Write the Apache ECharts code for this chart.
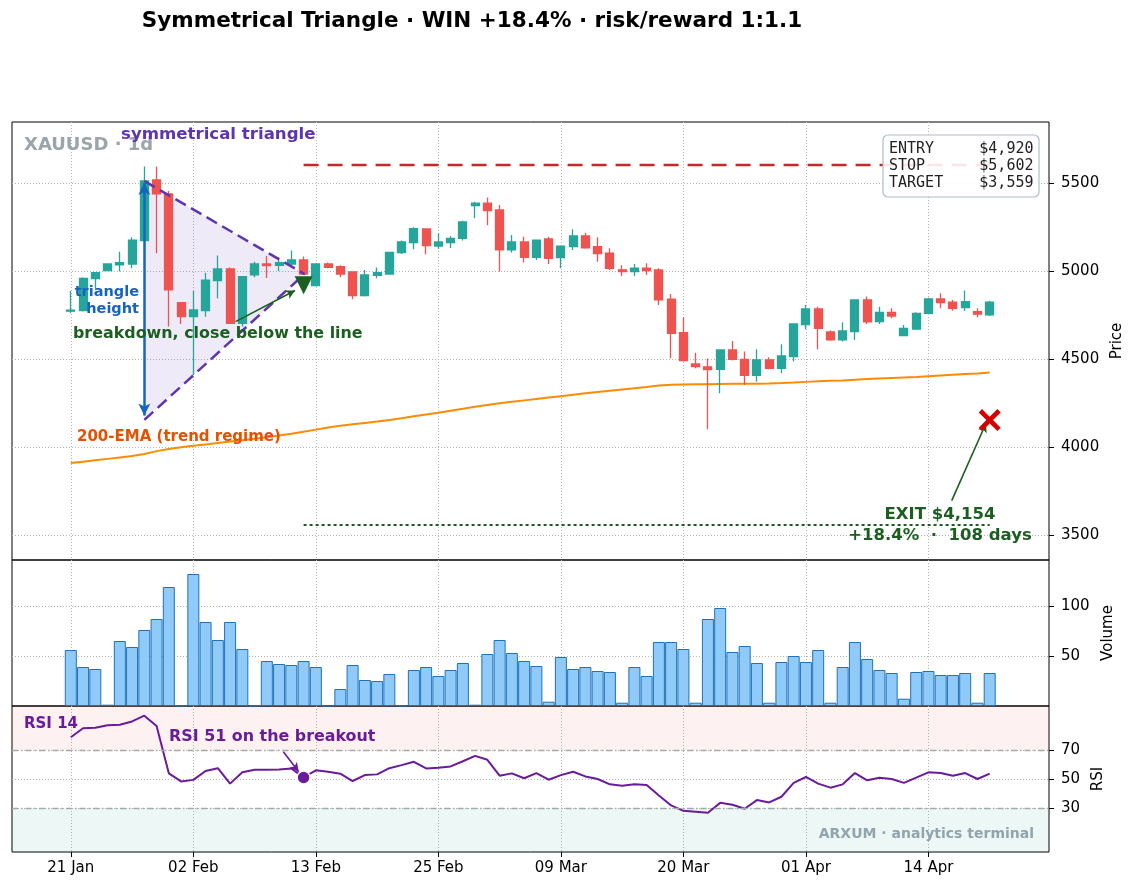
<!DOCTYPE html>
<html>
<head>
<meta charset="utf-8">
<script src="https://cdn.jsdelivr.net/npm/echarts@6/dist/echarts.min.js"></script>
<style>
html,body{margin:0;padding:0;background:#fff;}
#chart{width:1139px;height:894px;}
</style>
</head>
<body>
<div id="chart"></div>
<script>
// x axis: bar index, labelled every 10 bars
var tickIdx = [0, 10, 20, 30, 40, 50, 60, 70];
var tickLabels = ['21 Jan', '02 Feb', '13 Feb', '25 Feb', '09 Mar', '20 Mar', '01 Apr', '14 Apr'];

var opens  = [4772,4775,4957,5002,5035,5040,5173,5517,5438,4821,4741,4775,4946,5012,4703,4978,5040,5033,5040,5063,
              4917,5040,5025,4995,4860,4976,4983,5105,5162,5239,5142,5162,5186,5371,5385,5347,5120,5165,5078,5182,
              5076,5139,5199,5139,5101,5006,4997,5016,5006,4840,4650,4473,4456,4442,4552,4499,4408,4496,4448,4514,
              4696,4785,4654,4609,4656,4836,4713,4766,4633,4671,4760,4842,4823,4792,4770,4751];
var closes = [4778,4959,4991,5040,5048,5176,5511,5438,4893,4741,4779,4949,5012,4703,4968,5040,5031,5048,5063,4983,
              5040,5021,4983,4860,4978,4991,5106,5165,5241,5144,5165,5186,5279,5385,5343,5120,5165,5078,5176,5072,
              5142,5199,5131,5099,5016,4997,5016,5003,4836,4647,4492,4458,4440,4552,4499,4408,4496,4448,4518,4700,
              4785,4675,4609,4660,4836,4711,4766,4745,4675,4760,4842,4821,4789,4826,4755,4823];
var lows   = [4760,4770,4902,5000,4997,5016,5170,5101,4685,4700,4410,4741,4845,4700,4685,4965,4961,5000,5035,4978,
              4912,5016,4965,4840,4855,4959,4980,5097,5124,5095,5127,5131,5173,5299,5260,4997,5105,5048,5063,5040,
              5016,5120,5127,5053,5006,4972,4972,4978,4808,4505,4486,4448,4102,4306,4492,4353,4372,4442,4420,4486,
              4669,4556,4605,4600,4609,4700,4700,4732,4632,4666,4756,4789,4775,4773,4738,4745];
var highs  = [4887,4965,4995,5043,5110,5192,5593,5593,5455,4825,4887,4991,5088,5020,4972,5053,5086,5078,5116,5082,
              5045,5048,5033,4998,5006,5020,5108,5173,5248,5242,5214,5199,5286,5394,5417,5375,5205,5195,5178,5195,
              5145,5237,5218,5192,5129,5033,5040,5044,5016,4870,4736,4537,4503,4555,4603,4543,4556,4511,4584,4703,
              4808,4798,4662,4709,4840,4855,4798,4789,4694,4766,4849,4874,4836,4889,4789,4830];
var volume = [56,39,37,1.3,65,59,76,87,119,0.3,132,84,66,84,57,0.3,45,42,41,45,
              39,0.3,17,41,26,25,32,0.3,36,39,30,36,43,1.3,52,66,53,45,40,4.3,
              49,37,39,35,34,3.3,39,30,64,64,57,3.3,87,98,54,60,43,3.3,44,50,
              44,56,3.3,39,64,47,36,33,7.3,34,35,31,31,33,3.3,33];
var ema200 = [3910,3918,3926,3934,3942,3950,3962,3978,3990,4000,4008,4016,4024,4032,4040,4048,4056,4066,4076,4088,
              4100,4112,4122,4130,4138,4146,4155,4165,4176,4186,4196,4207,4218,4230,4240,4250,4258,4266,4274,4282,
              4290,4298,4306,4314,4321,4328,4335,4342,4350,4354,4356,4357,4358,4359,4360,4360,4361,4362,4364,4367,
              4371,4374,4377,4379,4383,4387,4390,4393,4396,4399,4403,4407,4411,4415,4419,4424];
var rsi14  = [78.9,85.1,85.5,87.2,87.5,89.8,93.8,86.7,53.9,48.3,49.4,55.5,57.5,46.8,54.6,56.4,56.4,56.6,57.3,51.1,
              56,55,53.7,48.6,52.7,53.2,57.5,59.6,61.9,57.3,57.8,58.7,62.3,66,63.3,52.3,53.9,50.5,54.1,49.5,
              52.7,55,51.8,50,46.3,45.4,46.3,45.9,38.6,31.7,28,27.4,26.7,33.5,32.2,29.4,35.4,33.8,37.7,47.3,
              51.4,46.8,44,46.3,54.1,49.1,50.9,50,47.3,50.9,54.6,54.1,52.3,54.1,50,53.7];

// trade levels
var entryPrice = 4920, stopPrice = 5602, targetPrice = 3559, exitPrice = 4154;
var breakoutIdx = 19, exitIdx = 75, breakoutRsi = 51;
// triangle: top vertex, apex, bottom vertex
var triangle = [[6, 5511], [19.07, 4983], [6, 4155]];

var UP = '#26a69a', DOWN = '#ef5350';
var FONT = 'DejaVu Sans';
var GRID_LINE = {show: true, lineStyle: {color: '#b5b5b5', type: [1, 2], width: 1}};

function xAxis(gridIndex, labels) {
    return {
        type: 'value', gridIndex: gridIndex, min: -4.8, max: 79.84,
        axisLine: {show: false, onZero: false},
        axisTick: {show: labels, customValues: tickIdx, length: 5, lineStyle: {color: '#000'}},
        axisLabel: {show: labels, customValues: tickIdx, color: '#000', fontSize: 15, fontFamily: FONT, margin: 9,
            formatter: function (v) { return tickLabels[tickIdx.indexOf(Math.round(v))] || ''; }},
        splitLine: GRID_LINE
    };
}
function yAxis(gridIndex, min, max, ticks, name, gap) {
    return {
        type: 'value', gridIndex: gridIndex, position: 'right', min: min, max: max,
        axisLine: {show: false, onZero: false},
        axisTick: {show: true, customValues: ticks, length: 5, lineStyle: {color: '#000'}},
        axisLabel: {customValues: ticks, color: '#000', fontSize: 15, fontFamily: FONT, margin: 12,
            formatter: function (v) { return String(v); }},
        splitLine: GRID_LINE,
        name: name, nameLocation: 'middle', nameRotate: 90, nameGap: gap,
        nameTextStyle: {color: '#000', fontSize: 15, fontFamily: FONT}
    };
}
var gridBase = {left: 12, right: 90, show: true, borderColor: '#000', borderWidth: 1, backgroundColor: 'transparent'};

var candles = opens.map(function (o, i) { return [i, o, closes[i], lows[i], highs[i]]; });

var chart = echarts.init(document.getElementById('chart'));
chart.setOption({
    animation: false,
    backgroundColor: '#fff',
    grid: [
        Object.assign({top: 122, height: 438}, gridBase),
        Object.assign({top: 560, height: 146}, gridBase),
        Object.assign({top: 706, height: 146}, gridBase)
    ],
    xAxis: [xAxis(0, false), xAxis(1, false), xAxis(2, true)],
    yAxis: [
        yAxis(0, 3360, 5846, [3500, 4000, 4500, 5000, 5500], 'Price', 58),
        yAxis(1, 0, 146, [50, 100], 'Volume', 50),
        yAxis(2, -0.5, 100.5, [30, 50, 70], 'RSI', 41)
    ],
    series: [
        {   // triangle fill
            type: 'custom', xAxisIndex: 0, yAxisIndex: 0, silent: true, z: 1,
            data: [[triangle[0][0], triangle[0][1]]],
            renderItem: function (params, api) {
                return {type: 'polygon', shape: {points: triangle.map(function (p) { return api.coord(p); })},
                    style: {fill: 'rgba(94,53,177,0.10)'}};
            }
        },
        {
            type: 'line', xAxisIndex: 0, yAxisIndex: 0, z: 2, symbol: 'none',
            data: ema200.map(function (v, i) { return [i, v]; }),
            lineStyle: {color: '#fb8c00', width: 2}
        },
        {
            type: 'candlestick', xAxisIndex: 0, yAxisIndex: 0, z: 3,
            data: candles, encode: {x: 0, y: [1, 2, 3, 4]}, barWidth: 8.5,
            itemStyle: {color: UP, color0: DOWN, borderColor: UP, borderColor0: DOWN, borderWidth: 1.3}
        },
        {   // triangle edges
            type: 'line', xAxisIndex: 0, yAxisIndex: 0, z: 4, symbol: 'none',
            data: [triangle[0], triangle[1]], lineStyle: {color: '#5e35b1', width: 2.5, type: [12, 6]}
        },
        {
            type: 'line', xAxisIndex: 0, yAxisIndex: 0, z: 4, symbol: 'none',
            data: [triangle[2], triangle[1]], lineStyle: {color: '#5e35b1', width: 2.5, type: [12, 6]}
        },
        {   // stop / target levels
            type: 'line', xAxisIndex: 0, yAxisIndex: 0, z: 4, symbol: 'none',
            data: [[breakoutIdx, stopPrice], [exitIdx, stopPrice]], lineStyle: {color: '#c62828', width: 2.5, type: [15, 9]}
        },
        {
            type: 'line', xAxisIndex: 0, yAxisIndex: 0, z: 4, symbol: 'none',
            data: [[breakoutIdx, targetPrice], [exitIdx, targetPrice]], lineStyle: {color: '#1b5e20', width: 2, type: [3, 3]}
        },
        {   // arrows on price panel
            type: 'line', xAxisIndex: 0, yAxisIndex: 0, z: 5, data: [],
            markLine: {
                silent: true, animation: false, label: {show: false},
                data: [
                    [{coord: [6, 5500], symbol: 'arrow', symbolSize: [9, 12]},
                     {coord: [6, 4180], symbol: 'arrow', symbolSize: [9, 12],
                      lineStyle: {color: '#1565c0', width: 2.5, type: 'solid'}}],
                    [{coord: [13.45, 4713], symbol: 'none'},
                     {coord: [18.3, 4890], symbol: 'arrow', symbolSize: [7, 9],
                      lineStyle: {color: '#1b5e20', width: 1.6, type: 'solid'}}],
                    [{coord: [71.9, 3697], symbol: 'none'},
                     {coord: [74.7, 4136], symbol: 'arrow', symbolSize: [7, 9],
                      lineStyle: {color: '#1b5e20', width: 1.6, type: 'solid'}}]
                ]
            }
        },
        {   // entry marker
            type: 'scatter', xAxisIndex: 0, yAxisIndex: 0, z: 6,
            data: [[breakoutIdx, entryPrice]], symbol: 'triangle', symbolRotate: 180, symbolSize: [18, 18],
            itemStyle: {color: '#1b5e20', opacity: 1}
        },
        {   // exit marker
            type: 'scatter', xAxisIndex: 0, yAxisIndex: 0, z: 6,
            data: [[exitIdx, exitPrice]],
            symbol: 'path://M0,3 L3,0 L10,7 L17,0 L20,3 L13,10 L20,17 L17,20 L10,13 L3,20 L0,17 L7,10 Z',
            symbolSize: 22, itemStyle: {color: '#d50000', opacity: 1}
        },
        {
            type: 'bar', xAxisIndex: 1, yAxisIndex: 1, barWidth: 12,
            data: volume.map(function (v, i) { return [i, v]; }),
            itemStyle: {color: '#90caf9', borderColor: '#1f72b8', borderWidth: 1}
        },
        {
            type: 'line', xAxisIndex: 2, yAxisIndex: 2, symbol: 'none', z: 3,
            data: rsi14.map(function (v, i) { return [i, v]; }),
            lineStyle: {color: '#6a1b9a', width: 2},
            markArea: {
                silent: true,
                data: [
                    [{yAxis: 70, itemStyle: {color: 'rgba(229,57,53,0.07)'}}, {yAxis: 100.5}],
                    [{yAxis: -0.5, itemStyle: {color: 'rgba(0,137,123,0.07)'}}, {yAxis: 30}]
                ]
            },
            markLine: {
                silent: true, symbol: 'none', label: {show: false},
                lineStyle: {color: '#a8a8a8', width: 1.4, type: [6, 3, 1.5, 3]},
                data: [
                    {yAxis: 70}, {yAxis: 30},
                    [{coord: [17.35, 68.8], symbol: 'none'},
                     {coord: [18.6, 55], symbol: 'arrow', symbolSize: [7, 9],
                      lineStyle: {color: '#6a1b9a', width: 1.6, type: 'solid'}}]
                ]
            }
        },
        {
            type: 'scatter', xAxisIndex: 2, yAxisIndex: 2, z: 6,
            data: [[breakoutIdx, breakoutRsi]], symbolSize: 13,
            itemStyle: {color: '#6a1b9a', borderColor: '#fff', borderWidth: 1.5, opacity: 1}
        }
    ],
    graphic: [
        {type: 'text', x: 472, y: 21, style: {text: 'Symmetrical Triangle · WIN +18.4% · risk/reward 1:1.1',
            fill: '#000', fontSize: 21.5, fontWeight: 'bold', fontFamily: FONT, textAlign: 'center', textVerticalAlign: 'middle'}},
        {type: 'text', x: 24, y: 145, z: 10, style: {text: 'XAUUSD · 1d', fill: '#9aa4ab', fontSize: 18, fontWeight: 'bold',
            fontFamily: FONT, textAlign: 'left', textVerticalAlign: 'middle'}},
        {type: 'text', x: 121, y: 135, z: 10, style: {text: 'symmetrical triangle', fill: '#5e35b1', fontSize: 16.6,
            fontWeight: 'bold', fontFamily: FONT, textAlign: 'left', textVerticalAlign: 'middle'}},
        {type: 'text', x: 139, y: 300.5, z: 10, style: {text: 'triangle\nheight', fill: '#1565c0', fontSize: 14.5,
            lineHeight: 17, fontWeight: 'bold', fontFamily: FONT, textAlign: 'right', textVerticalAlign: 'middle'}},
        {type: 'text', x: 73, y: 334, z: 10, style: {text: 'breakdown, close below the line', fill: '#1b5e20', fontSize: 15.9,
            fontWeight: 'bold', fontFamily: FONT, textAlign: 'left', textVerticalAlign: 'middle'}},
        {type: 'text', x: 77, y: 437, z: 10, style: {text: '200-EMA (trend regime)', fill: '#e65100', fontSize: 15,
            fontWeight: 'bold', fontFamily: FONT, textAlign: 'left', textVerticalAlign: 'middle'}},
        {type: 'text', x: 940, y: 525.5, z: 10, style: {text: 'EXIT $4,154\n+18.4%  ·  108 days', fill: '#1b5e20',
            fontSize: 16.5, lineHeight: 21, fontWeight: 'bold', fontFamily: FONT, textAlign: 'center', textVerticalAlign: 'middle'}},
        {type: 'rect', z: 10, shape: {x: 883, y: 135, width: 156, height: 62, r: 5},
            style: {fill: 'rgba(255,255,255,0.88)', stroke: '#b0bec5', lineWidth: 1.2}},
        {type: 'text', x: 889, y: 141, z: 11, style: {text: 'ENTRY     $4,920\nSTOP      $5,602\nTARGET    $3,559',
            fill: '#222', fontSize: 15, lineHeight: 17, fontFamily: 'DejaVu Sans Mono', textAlign: 'left', textVerticalAlign: 'top'}},
        {type: 'text', x: 24, y: 724, z: 10, style: {text: 'RSI 14', fill: '#6a1b9a', fontSize: 15, fontWeight: 'bold',
            fontFamily: FONT, textAlign: 'left', textVerticalAlign: 'middle'}},
        {type: 'text', x: 169, y: 737, z: 10, style: {text: 'RSI 51 on the breakout', fill: '#6a1b9a', fontSize: 15.9,
            fontWeight: 'bold', fontFamily: FONT, textAlign: 'left', textVerticalAlign: 'middle'}},
        {type: 'text', x: 1034, y: 834, z: 10, style: {text: 'ARXUM · analytics terminal', fill: '#90a4ae', fontSize: 14,
            fontWeight: 'bold', fontFamily: FONT, textAlign: 'right', textVerticalAlign: 'middle'}}
    ]
});
</script>
</body>
</html>
